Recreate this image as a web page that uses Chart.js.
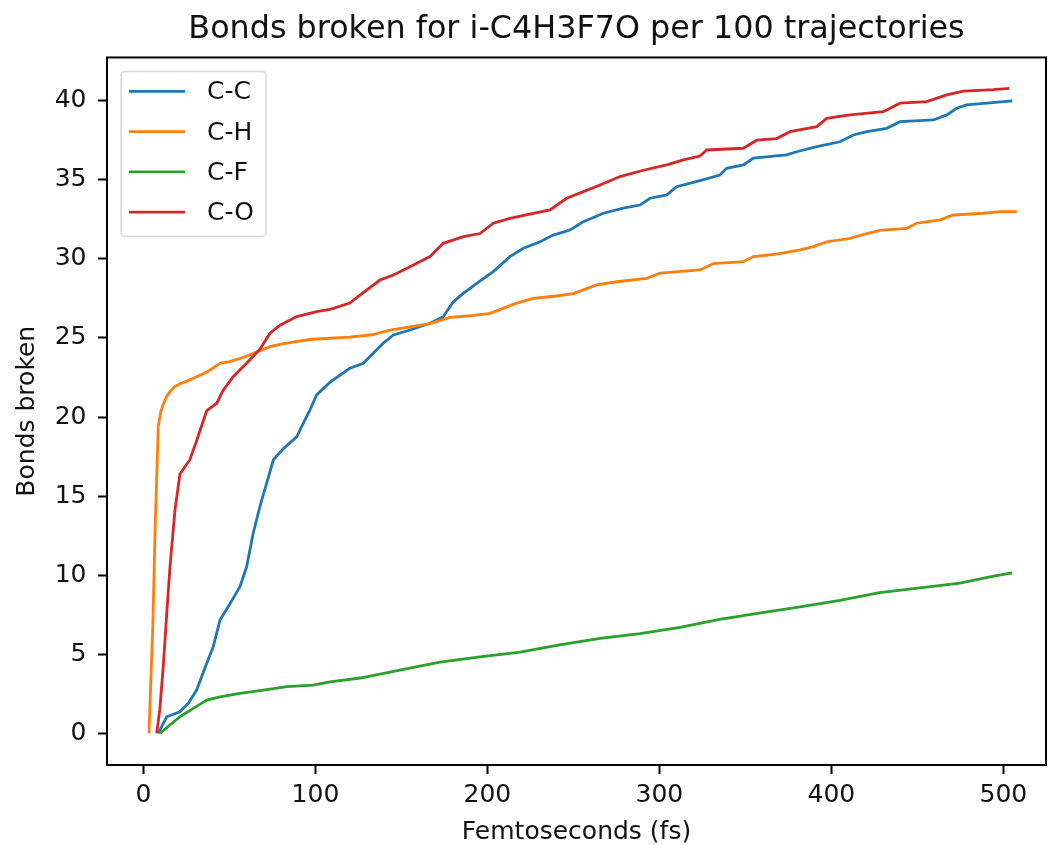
<!DOCTYPE html>
<html>
<head>
<meta charset="utf-8">
<title>Bonds broken</title>
<script src="https://cdn.jsdelivr.net/npm/chart.js@4.4.0/dist/chart.umd.min.js"></script>
<style>
  html, body { margin: 0; padding: 0; background: #fff; }
</style>
</head>
<body>
<canvas id="bonds" width="1052" height="845"></canvas>
<script>
// cumulative bonds broken (per 100 trajectories) vs time in fs
var ccTime = [8.6, 13.5, 21.2, 26.1, 30.9, 36.8, 40.6, 44.5, 50.3, 56.1, 60, 63.8, 67.7, 71.6, 75.5, 81.3, 89.1, 92.9, 96.8, 100.7,
  108.5, 120, 127.8, 133.6, 139.4, 145.3, 155, 166.6, 174.3, 180.2, 186, 193.8, 203.4, 213.1, 220.9, 230.6, 238.3, 248, 255.8, 267.4,
  279, 288.7, 294.5, 304.3, 310, 323.6, 335.2, 339.1, 348.8, 354.6, 374, 379.8, 391.5, 405, 412.8, 420.6, 432.2, 439.9, 459.3, 467.1,
  472.9, 478.7, 490.3, 505.2];
var ccBonds = [0, 1.05, 1.37, 1.9, 2.74, 4.43, 5.48, 7.16, 8.2, 9.27, 10.53, 12.65, 14.33, 15.8, 17.28, 18.0, 18.75, 19.6, 20.44, 21.4,
  22.2, 23.08, 23.4, 24.03, 24.66, 25.19, 25.5, 25.93, 26.34, 27.29, 27.82, 28.45, 29.19, 30.14, 30.67, 31.08, 31.5, 31.82, 32.35, 32.88,
  33.2, 33.4, 33.83, 34.04, 34.56, 34.95, 35.3, 35.72, 35.94, 36.36, 36.57, 36.77, 37.09, 37.4, 37.83, 38.04, 38.25, 38.67, 38.78, 39.1,
  39.52, 39.73, 39.84, 39.98];

var chTime = [3.2, 5.5, 6.7, 8.6, 10, 11.5, 13.5, 15.4, 18, 21.2, 26, 30.9, 36, 40.6, 44.5, 50, 56.1, 60, 65.8, 73.6,
  80, 85.2, 96.8, 108.5, 120, 133, 143.3, 155, 166.6, 178.2, 190, 201.5, 217, 226.7, 240, 250, 263.5, 275.2, 292.6, 300.4,
  323.6, 331.4, 348.8, 354.6, 368, 381.8, 389.5, 397.3, 410.8, 420.6, 428.3, 443.8, 449.6, 463.2, 470.9, 488.4, 498, 507.8];
var chBonds = [0, 7, 12.6, 19.4, 20.3, 20.8, 21.3, 21.6, 21.9, 22.1, 22.3, 22.55, 22.8, 23.1, 23.4, 23.5, 23.7, 23.85, 24.1, 24.45,
  24.6, 24.7, 24.9, 24.98, 25.05, 25.2, 25.5, 25.7, 25.9, 26.3, 26.4, 26.55, 27.2, 27.5, 27.65, 27.8, 28.35, 28.55, 28.77, 29.1,
  29.3, 29.7, 29.82, 30.14, 30.3, 30.56, 30.77, 31.08, 31.3, 31.6, 31.8, 31.93, 32.25, 32.46, 32.77, 32.88, 32.98, 32.98];

var cfTime = [9.6, 15, 21.2, 29, 36.8, 44.5, 56.1, 69.7, 83.3, 98.7, 108.5, 126, 149, 172.4, 195.7, 219, 242, 265.5, 288.7, 312,
  335, 358, 381.8, 405, 428, 451.5, 474.8, 492.2, 505];
var cfBonds = [0, 0.5, 1.05, 1.58, 2.1, 2.31, 2.53, 2.74, 2.95, 3.05, 3.26, 3.5, 4.0, 4.5, 4.83, 5.14, 5.6, 6.0, 6.3, 6.7,
  7.2, 7.6, 8.0, 8.4, 8.9, 9.2, 9.5, 9.9, 10.15];

var coTime = [7.7, 9.5, 11.5, 13.5, 15.4, 18.3, 21.2, 27, 30.9, 36.8, 42.6, 46.4, 52.2, 60, 67.8, 73.6, 79.4, 89.1, 100.7, 108.5,
  120, 125.9, 137.5, 145.3, 155, 166.6, 174.3, 186, 195.7, 203.4, 213.1, 226.7, 236.4, 246.1, 255.8, 265.5, 277.1, 290.7, 304.3, 314,
  323.6, 327.5, 348.8, 356.6, 368.2, 376, 391.5, 397.3, 410.8, 430.2, 439.9, 455.4, 467.1, 476.8, 494.2, 503.5];
var coBonds = [0, 1.5, 4.2, 7.5, 10.5, 14.1, 16.4, 17.3, 18.5, 20.4, 20.87, 21.7, 22.55, 23.4, 24.3, 25.3, 25.8, 26.35, 26.66, 26.8,
  27.2, 27.7, 28.66, 28.98, 29.5, 30.14, 30.98, 31.4, 31.6, 32.25, 32.56, 32.88, 33.09, 33.83, 34.25, 34.67, 35.2, 35.6, 35.94, 36.25,
  36.5, 36.88, 36.99, 37.5, 37.6, 38.04, 38.36, 38.88, 39.1, 39.3, 39.84, 39.94, 40.36, 40.6, 40.7, 40.78];

var bondLabels = ['C-C', 'C-H', 'C-F', 'C-O'];
var bondColors = ['#1f77b4', '#ff7f0e', '#2ca02c', '#d62728'];
var xTicks = [0, 100, 200, 300, 400, 500];
var yTicks = [0, 5, 10, 15, 20, 25, 30, 35, 40];

var FONT = 'DejaVu Sans';
var TXT = '#111';

function toPoints(t, v) {
  var pts = [];
  for (var i = 0; i < t.length; i++) pts.push({ x: t[i], y: v[i] });
  return pts;
}

var series = [[ccTime, ccBonds], [chTime, chBonds], [cfTime, cfBonds], [coTime, coBonds]];
var datasets = series.map(function (s, i) {
  return {
    label: bondLabels[i],
    data: toPoints(s[0], s[1]),
    borderColor: bondColors[i],
    borderWidth: 2.8,
    pointRadius: 0,
    tension: 0,
    fill: false,
    order: 3 - i   // later series drawn on top
  };
});

// axes box on all four sides
var frame = {
  id: 'frame',
  afterDatasetsDraw: function (chart) {
    var a = chart.chartArea, ctx = chart.ctx;
    ctx.save();
    ctx.strokeStyle = '#000';
    ctx.lineWidth = 2;
    ctx.strokeRect(a.left, a.top, a.right - a.left, a.bottom - a.top);
    ctx.restore();
  }
};

// legend box in the upper left corner of the plot
var boxLegend = {
  id: 'boxLegend',
  afterDatasetsDraw: function (chart) {
    var a = chart.chartArea, ctx = chart.ctx;
    var x = a.left + 14, y = a.top + 14, w = 145, h = 165;
    ctx.save();
    ctx.fillStyle = 'rgba(255,255,255,0.8)';
    ctx.strokeStyle = '#d8d8d8';
    ctx.lineWidth = 1.5;
    ctx.beginPath();
    ctx.roundRect(x, y, w, h, 4);
    ctx.fill();
    ctx.stroke();
    ctx.font = '25px "' + FONT + '"';
    ctx.textBaseline = 'middle';
    chart.data.datasets.forEach(function (ds, i) {
      var cy = y + 20 + i * 40.2;
      ctx.strokeStyle = ds.borderColor;
      ctx.lineWidth = 2.8;
      ctx.beginPath();
      ctx.moveTo(x + 8, cy);
      ctx.lineTo(x + 64, cy);
      ctx.stroke();
      ctx.fillStyle = TXT;
      ctx.fillText(ds.label, x + 86, cy + 1.5);
    });
    ctx.restore();
  }
};

var tickGrid = { display: true, drawOnChartArea: false, drawTicks: true, tickLength: 9, tickWidth: 2, tickColor: '#000' };

new Chart(document.getElementById('bonds').getContext('2d'), {
  type: 'line',
  data: { datasets: datasets },
  plugins: [frame, boxLegend],
  options: {
    responsive: false,
    animation: false,
    layout: { padding: { left: 0, right: 6, top: 0, bottom: 0 } },
    plugins: {
      legend: { display: false },
      tooltip: { enabled: false },
      title: {
        display: true,
        text: 'Bonds broken for i-C4H3F7O per 100 trajectories',
        fullSize: false,
        color: TXT,
        font: { family: FONT, size: 31.8, weight: 'normal' },
        padding: { top: 11, bottom: 8.3 }
      }
    },
    scales: {
      x: {
        type: 'linear',
        min: -21.2,
        max: 524.8,
        afterBuildTicks: function (s) { s.ticks = xTicks.map(function (v) { return { value: v }; }); },
        afterFit: function (s) { s.height = 80; },
        grid: tickGrid,
        border: { display: false },
        ticks: { color: TXT, padding: 6.5, maxRotation: 0, font: { family: FONT, size: 25 } },
        title: {
          display: true, text: 'Femtoseconds (fs)', color: TXT,
          font: { family: FONT, size: 25 }, padding: { top: 0, bottom: -2 }
        }
      },
      y: {
        type: 'linear',
        min: -2.0,
        max: 42.73,
        afterBuildTicks: function (s) { s.ticks = yTicks.map(function (v) { return { value: v }; }); },
        afterFit: function (s) { s.width = 107; },
        grid: tickGrid,
        border: { display: false },
        ticks: { color: TXT, padding: 11.5, font: { family: FONT, size: 25 } },
        title: {
          display: true, text: 'Bonds broken', color: TXT,
          font: { family: FONT, size: 25 }, padding: { top: 12, bottom: 0 }
        }
      }
    }
  }
});
</script>
</body>
</html>
